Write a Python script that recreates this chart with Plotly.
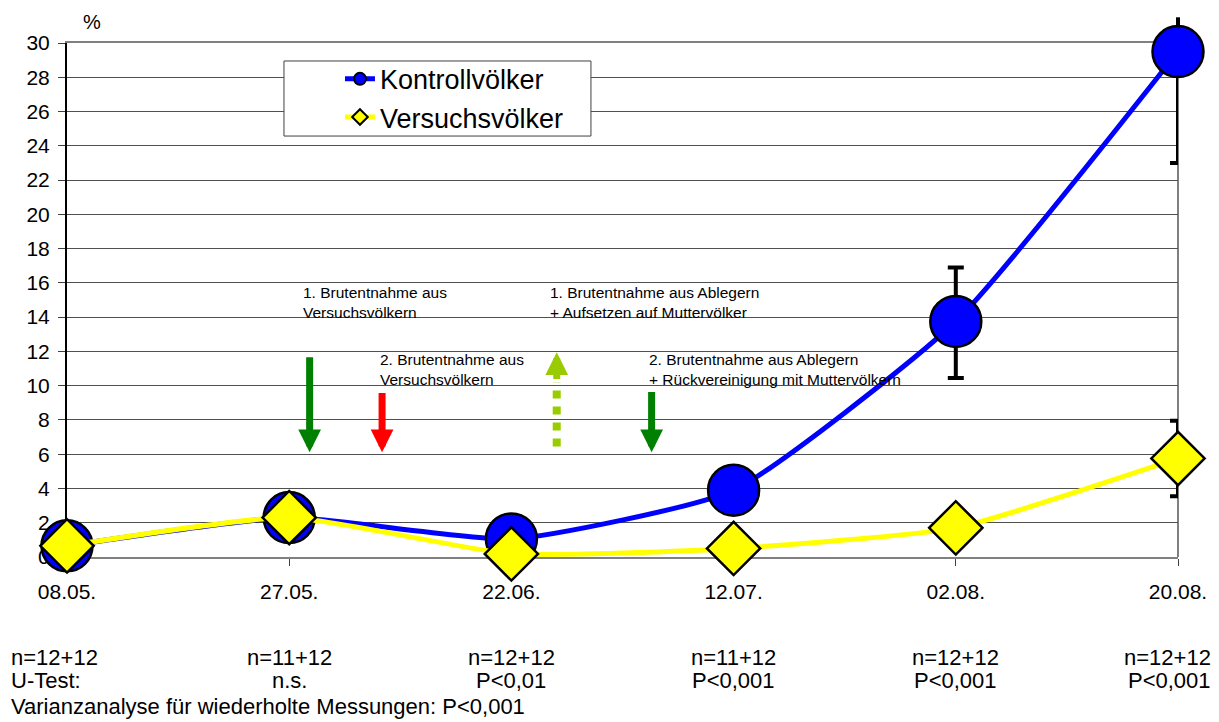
import plotly.graph_objects as go

# Termine der Messungen
dates = ["08.05.", "27.05.", "22.06.", "12.07.", "02.08.", "20.08."]

# Befall in %
kontroll = [0.65, 2.3, 1.05, 3.9, 13.75, 29.5]
versuch = [0.65, 2.3, 0.18, 0.5, 1.7, 5.75]

# Fehlerbalken (untere / obere Grenze)
kontroll_lo = [None, None, None, None, 10.45, 23.0]
kontroll_hi = [None, None, None, None, 16.9, 31.5]
versuch_lo = [None, None, None, None, None, 3.55]
versuch_hi = [None, None, None, None, None, 7.95]

n_labels = ["n=12+12", "n=11+12", "n=12+12", "n=11+12", "n=12+12", "n=12+12"]
test_labels = ["U-Test:", "n.s.", "P<0,01", "P<0,001", "P<0,001", "P<0,001"]

Y_MAX = 30
FONT = "Arial, Liberation Sans, sans-serif"
N = len(dates)

fig = go.Figure()

# Fehlerbalken (unter den Markern); was über den Achsenrand hinausgeht, kommt als Linie ohne Kappe
for y, lo, hi in [(kontroll, kontroll_lo, kontroll_hi), (versuch, versuch_lo, versuch_hi)]:
    plus, minus = [], []
    for i, (v, l, h) in enumerate(zip(y, lo, hi)):
        if l is None:
            plus.append(None)
            minus.append(None)
            continue
        minus.append(v - l)
        if h > Y_MAX:
            plus.append(0)
            fig.add_shape(type="line", xref="paper", yref="paper",
                          x0=i / (N - 1), x1=i / (N - 1), y0=v / Y_MAX, y1=h / Y_MAX,
                          line=dict(color="black", width=4), layer="below")
        else:
            plus.append(h - v)
    fig.add_trace(go.Scatter(
        x=dates, y=y, mode="markers", marker=dict(size=1, opacity=0),
        error_y=dict(type="data", symmetric=False, array=plus, arrayminus=minus,
                     color="black", thickness=4, width=8),
        showlegend=False, hoverinfo="skip", cliponaxis=False,
    ))

fig.add_trace(go.Scatter(
    x=dates, y=kontroll, name="Kontrollvölker", mode="lines+markers", legendgroup="k",
    line=dict(color="#0000FF", width=5, shape="spline", smoothing=0.5),
    marker=dict(symbol="circle", size=51, color="#0000FF", line=dict(color="black", width=2.5)),
    cliponaxis=False,
))
fig.add_trace(go.Scatter(
    x=dates, y=versuch, name="Versuchsvölker", mode="lines+markers", legendgroup="v",
    line=dict(color="#FFFF00", width=5, shape="spline", smoothing=0.5),
    marker=dict(symbol="diamond", size=41, color="#FFFF00", line=dict(color="black", width=2.5)),
    cliponaxis=False,
))

# Pfeile für die Eingriffe: (x-Position als Kategorienindex, y Start, y Spitze, Farbe)
arrows = [
    (1.092, 11.75, 6.12, "#008000"),
    (1.418, 9.66, 6.12, "#FF0000"),
    (2.631, 9.72, 6.12, "#008000"),
]
for ax_, y0, y1, col in arrows:
    fig.add_annotation(x=ax_, y=y1, ax=ax_, ay=y0, xref="x", yref="y", axref="x", ayref="y",
                       showarrow=True, arrowhead=2, arrowsize=0.65, arrowwidth=7,
                       arrowcolor=col, text="")

# gestrichelter Pfeil nach oben
fig.add_shape(type="line", x0=2.204, x1=2.204, y0=6.45, y1=10.2, xref="x", yref="y",
              line=dict(color="#99CC00", width=8, dash="dot"))
fig.add_annotation(x=2.204, y=11.95, ax=2.204, ay=10.3, xref="x", yref="y", axref="x", ayref="y",
                   showarrow=True, arrowhead=2, arrowsize=0.65, arrowwidth=7,
                   arrowcolor="#99CC00", text="")

notes = [
    (1.052, 14.85, "1. Brutentnahme aus<br>Versuchsvölkern"),
    (1.399, 10.92, "2. Brutentnahme aus<br>Versuchsvölkern"),
    (2.166, 14.85, "1. Brutentnahme aus Ablegern<br>+ Aufsetzen auf Muttervölker"),
    (2.612, 10.92, "2. Brutentnahme aus Ablegern<br>+ Rückvereinigung mit Muttervölkern"),
]
for nx, ny, txt in notes:
    fig.add_annotation(x=nx, y=ny, xref="x", yref="y", text=txt, showarrow=False,
                       xanchor="left", yanchor="middle", align="left",
                       font=dict(family=FONT, size=15.5, color="black"))

# Tabelle unter dem Diagramm
for i in range(N):
    if i == 0:
        xa, xs = "left", -58
    elif i == N - 1:
        xa, xs = "right", 35
    else:
        xa, xs = "center", 0
    for row_y, labels in [(-0.195, n_labels), (-0.24, test_labels)]:
        fig.add_annotation(x=i / (N - 1), y=row_y, xref="paper", yref="paper",
                           text=labels[i], showarrow=False, xanchor=xa, yanchor="middle",
                           xshift=xs, font=dict(family=FONT, size=22, color="black"))

fig.add_annotation(x=0, y=-0.29, xref="paper", yref="paper", xshift=-58,
                   text="Varianzanalyse für wiederholte Messungen: P<0,001",
                   showarrow=False, xanchor="left", yanchor="middle",
                   font=dict(family=FONT, size=22, color="black"))

fig.add_annotation(x=0.0225, y=1.041, xref="paper", yref="paper", text="%", showarrow=False,
                   xanchor="center", yanchor="middle",
                   font=dict(family=FONT, size=20, color="black"))

# Legendenrahmen und rechter Rand
fig.add_shape(type="rect", xref="paper", yref="paper", x0=0.1953, x1=0.4716, y0=0.819, y1=0.965,
              fillcolor="white", line=dict(color="#404040", width=1), layer="above")
fig.add_shape(type="line", xref="paper", yref="paper", x0=1, x1=1, y0=0, y1=1,
              line=dict(color="#808080", width=2), layer="below")

# die Seite hat 8px Rand, daher 8px kleiner und Ränder entsprechend
fig.update_layout(
    width=1211, height=714,
    margin=dict(l=59, r=41, t=35, b=165),
    paper_bgcolor="white", plot_bgcolor="white",
    font=dict(family=FONT, size=21, color="black"),
    showlegend=True,
    legend=dict(x=0.2457, y=0.977, xanchor="left", yanchor="top",
                bgcolor="rgba(0,0,0,0)", borderwidth=0, itemsizing="constant",
                tracegroupgap=0,
                font=dict(family=FONT, size=27, color="black")),
    xaxis=dict(
        type="category", range=[0, N - 1], showgrid=False,
        showline=True, linecolor="#808080", linewidth=2, mirror=True,
        ticks="outside", ticklen=7, tickcolor="#404040", tickwidth=1,
        ticklabelstandoff=8, layer="below traces",
    ),
    yaxis=dict(
        range=[0, Y_MAX], tickvals=list(range(0, Y_MAX + 1, 2)),
        showgrid=True, gridcolor="#505050", gridwidth=1,
        showline=True, linecolor="black", linewidth=2,
        ticks="outside", ticklen=7, tickcolor="#404040", tickwidth=1,
        ticklabelstandoff=4, layer="below traces", zeroline=False,
    ),
)

fig.write_html("out.html")
